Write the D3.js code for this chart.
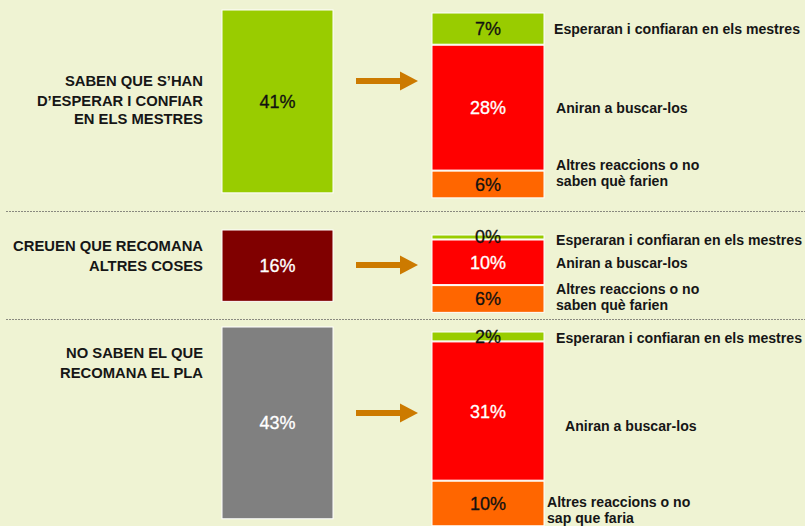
<!DOCTYPE html>
<html>
<head>
<meta charset="utf-8">
<script src="https://cdn.jsdelivr.net/npm/d3@7"></script>
<style>
  html, body { margin: 0; padding: 0; background: #eff3d3; }
  svg { display: block; font-family: "Liberation Sans", Arial, sans-serif; }
</style>
</head>
<body>
<svg width="805" height="526"></svg>
<script>
// data
const groupLabels = [
  ['SABEN QUE S’HAN', 'D’ESPERAR I CONFIAR', 'EN ELS MESTRES'],
  ['CREUEN QUE RECOMANA', 'ALTRES COSES'],
  ['NO SABEN EL QUE', 'RECOMANA EL PLA']
]
const groupValues = [41, 16, 43]
const groupColors = ['#99cc00', '#800000', '#808080']
const groupTextColors = ['#111', '#fff', '#fff']

const reactionValues = [
  [7, 28, 6],
  [0, 10, 6],
  [2, 31, 10]
]
const reactionLabels = [
  [['Esperaran i confiaran en els mestres'], ['Aniran a buscar-los'], ['Altres reaccions o no', 'saben què farien']],
  [['Esperaran i confiaran en els mestres'], ['Aniran a buscar-los'], ['Altres reaccions o no', 'saben què farien']],
  [['Esperaran i confiaran en els mestres'], ['Aniran a buscar-los'], ['Altres reaccions o no', 'sap que faria']]
]
const reactionColors = ['#99cc00', '#ff0000', '#ff6600']
const reactionTextColors = ['#111', '#fff', '#111']

// layout
const leftTop = [10, 230, 327]
const rightTop = [13, 235, 332]
const arrowY = [81, 265, 413]
const labelTextY = [[34, 113, 170], [245, 268, 294], [343, 431, 507]]
const labelTextX = [[554, 556, 556], [556, 556, 556], [556, 565, 547]]
const leftLabelY = [[86, 106, 124], [251, 271], [358, 378]]
const separators = [211.5, 319.5]

const svg = d3.select('svg')

const h = d3.scaleLinear().domain([0, 100]).range([0, 446])
const minH = 4

// dotted separators
svg.selectAll('line.sep')
  .data(separators)
  .join('line')
  .attr('class', 'sep')
  .attr('x1', 6).attr('x2', 805)
  .attr('y1', d => d).attr('y2', d => d)
  .attr('stroke', '#8a8a80')
  .attr('stroke-width', 1)
  .attr('stroke-dasharray', '2,1')

const g = svg.selectAll('g.group')
  .data(groupValues)
  .join('g')
  .attr('class', 'group')

g.each(function (d, i) {
  const sel = d3.select(this)

  // left labels
  sel.selectAll('text.lab')
    .data(groupLabels[i])
    .join('text')
    .attr('class', 'lab')
    .attr('x', 203)
    .attr('y', (t, j) => leftLabelY[i][j])
    .attr('text-anchor', 'end')
    .attr('font-size', 14.8)
    .attr('font-weight', 'bold')
    .attr('fill', '#161616')
    .text(t => t)

  // left bar
  const bh = h(d)
  sel.append('rect')
    .attr('x', 222).attr('y', leftTop[i])
    .attr('width', 111).attr('height', bh)
    .attr('fill', groupColors[i])
    .attr('stroke', '#fff').attr('stroke-width', 1)

  sel.append('text')
    .attr('x', 277.5).attr('y', leftTop[i] + bh / 2)
    .attr('dy', '0.36em')
    .attr('text-anchor', 'middle')
    .attr('font-size', 18)
    .attr('fill', groupTextColors[i])
    .attr('stroke', groupTextColors[i]).attr('stroke-width', 0.3)
    .text(d + '%')

  // arrow
  const ay = arrowY[i]
  sel.append('rect')
    .attr('x', 356).attr('y', ay - 3)
    .attr('width', 46).attr('height', 6)
    .attr('fill', '#cc7a00')
  sel.append('path')
    .attr('d', `M400,${ay - 9.5}L418,${ay}L400,${ay + 9.5}Z`)
    .attr('fill', '#cc7a00')

  // stacked reactions
  let y0 = rightTop[i]
  const segs = reactionValues[i].map((v, k) => {
    const sh = Math.max(minH, h(v))
    const s = { v, k, y: y0, h: sh }
    y0 += sh + 1
    return s
  })

  sel.selectAll('rect.seg')
    .data(segs)
    .join('rect')
    .attr('class', 'seg')
    .attr('x', 432).attr('width', 112)
    .attr('y', s => s.y).attr('height', s => s.h)
    .attr('fill', s => reactionColors[s.k])
    .attr('stroke', '#fff').attr('stroke-width', 1)

  sel.selectAll('text.val')
    .data(segs)
    .join('text')
    .attr('class', 'val')
    .attr('x', 488)
    .attr('y', s => s.y + s.h / 2)
    .attr('dy', '0.36em')
    .attr('text-anchor', 'middle')
    .attr('font-size', 18)
    .attr('fill', s => reactionTextColors[s.k])
    .attr('stroke', s => reactionTextColors[s.k]).attr('stroke-width', 0.3)
    .text(s => s.v + '%')

  // reaction labels
  reactionLabels[i].forEach((lines, k) => {
    sel.append('text')
      .attr('font-size', 14.1)
      .attr('font-weight', 'bold')
      .attr('fill', '#161616')
      .selectAll('tspan')
      .data(lines)
      .join('tspan')
      .attr('x', labelTextX[i][k])
      .attr('y', (t, j) => labelTextY[i][k] + j * 16)
      .text(t => t)
  })
})
</script>
</body>
</html>
